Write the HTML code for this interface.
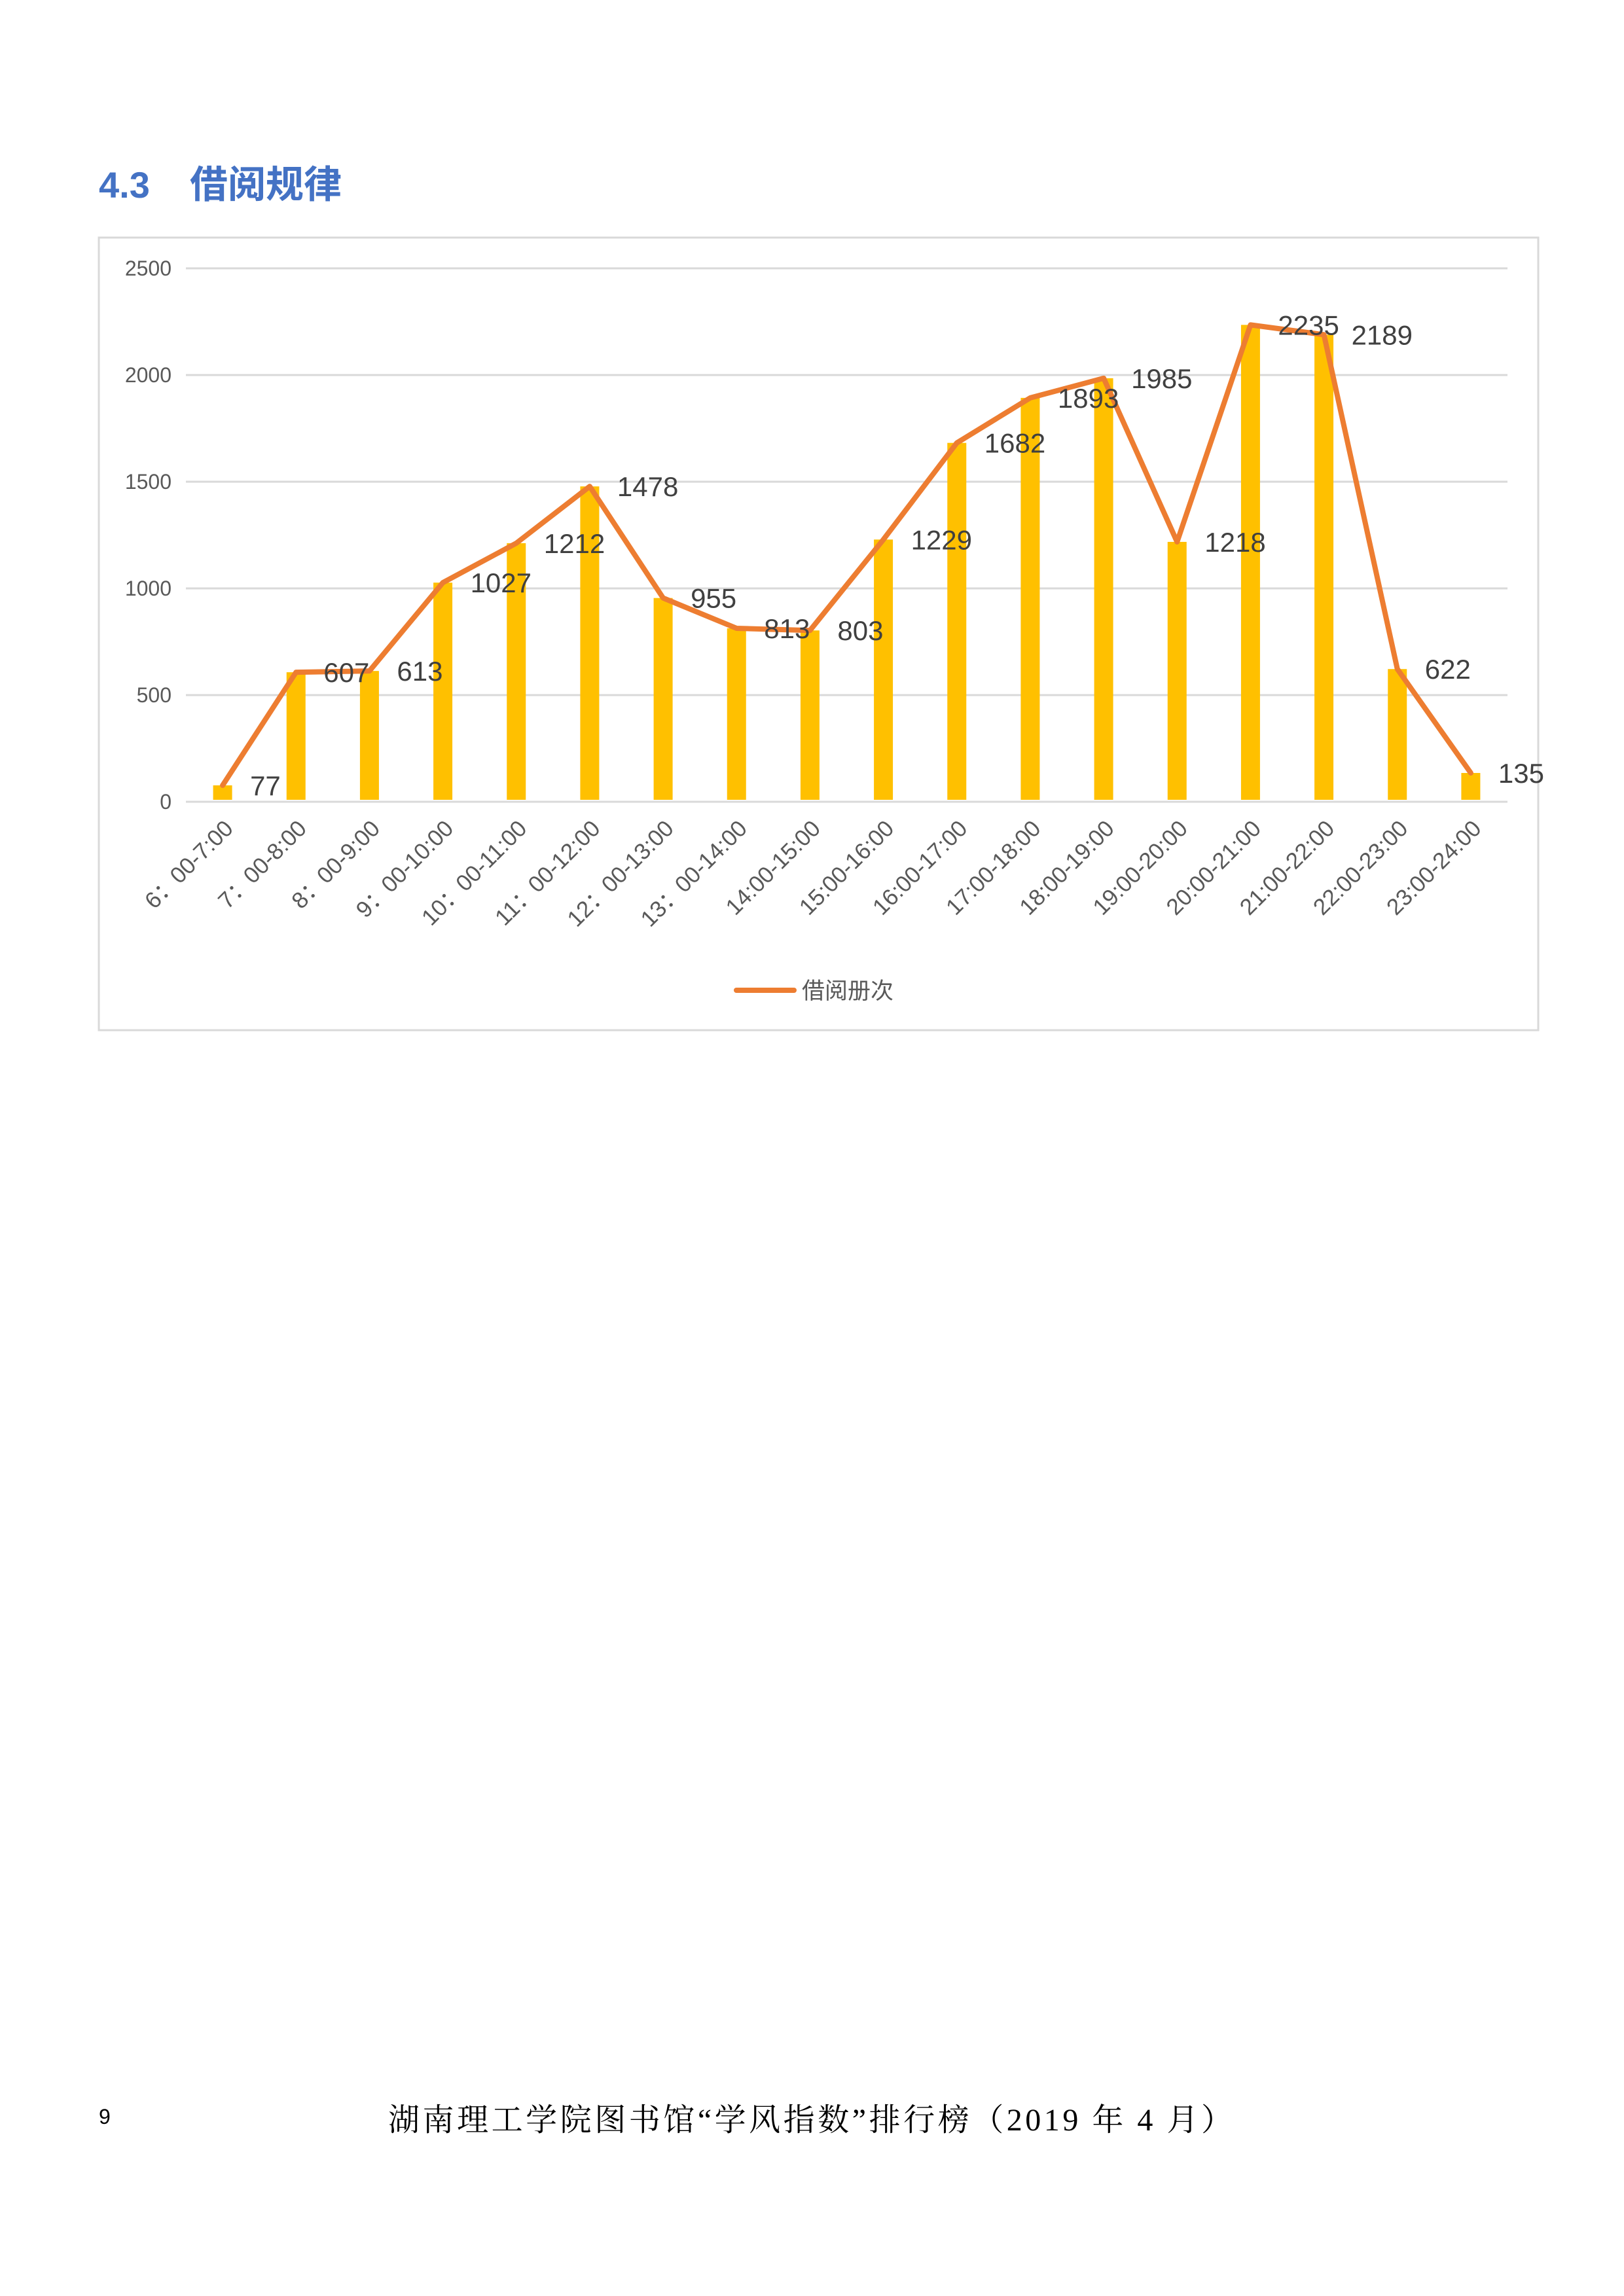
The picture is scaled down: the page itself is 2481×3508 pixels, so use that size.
<!DOCTYPE html>
<html><head><meta charset="utf-8"><style>
html,body{margin:0;padding:0;background:#fff;}
svg{display:block;}
</style></head><body>
<svg id="page" width="2481" height="3508" viewBox="0 0 2481 3508" xmlns="http://www.w3.org/2000/svg">
<text x="151" y="302" font-family="Liberation Sans, 'Noto Sans CJK SC', sans-serif" font-weight="bold" font-size="56" fill="#4472C4">4.3</text>
<text x="290" y="302" font-family="'Noto Sans CJK SC', sans-serif" font-weight="bold" font-size="58" fill="#4472C4">借阅规律</text>
<rect x="151" y="363" width="2199" height="1211" fill="#fff" stroke="#D9D9D9" stroke-width="3"/>
<g id="grid"></g>
<g id="ylabels"></g>
<g id="bars"></g>
<g id="line"></g>
<g id="vlabels"></g>
<g id="xlabels"></g>
<g>
<line x1="1125" y1="1513" x2="1213" y2="1513" stroke="#ED7D31" stroke-width="8" stroke-linecap="round"/>
<text x="1225" y="1526" font-family="'Noto Sans CJK SC', sans-serif" font-size="35" fill="#595959">借阅册次</text>
</g>
<text x="151" y="3245" font-family="Liberation Sans, sans-serif" font-size="32" fill="#000">9</text>
<text x="593" y="3255" font-family="'Liberation Serif', 'Noto Serif CJK SC', serif" font-size="48" fill="#000" textLength="1290">湖南理工学院图书馆“学风指数”排行榜（2019 年 4 月）</text>
</svg>
<script>
const categories = ["6：00-7:00","7：00-8:00","8：00-9:00","9：00-10:00","10：00-11:00","11：00-12:00","12：00-13:00","13：00-14:00","14:00-15:00","15:00-16:00","16:00-17:00","17:00-18:00","18:00-19:00","19:00-20:00","20:00-21:00","21:00-22:00","22:00-23:00","23:00-24:00"];
const values = [77,607,613,1027,1212,1478,955,813,803,1229,1682,1893,1985,1218,2235,2189,622,135];
const yTicks = [0,500,1000,1500,2000,2500];
const NS = "http://www.w3.org/2000/svg";
const X0 = 284, X1 = 2303, Y0 = 1225, Y1 = 410, YMAX = 2500;
const band = (X1 - X0) / categories.length;
function xs(i){ return X0 + (i + 0.5) * band; }
function ys(v){ return Y0 - (v / YMAX) * (Y0 - Y1); }
function mk(tag, attrs, parent){ const e = document.createElementNS(NS, tag); for (const k in attrs) e.setAttribute(k, attrs[k]); parent.appendChild(e); return e; }
const grid = document.getElementById('grid'), yl = document.getElementById('ylabels');
yTicks.forEach(t => {
  const l = mk('line', {x1:X0, x2:X1, y1:ys(t), y2:ys(t), stroke:'#D9D9D9', 'stroke-width':3}, grid);
  
  
  const tx = mk('text', {x:262, y:ys(t)+11, 'text-anchor':'end', 'font-family':'Liberation Sans, sans-serif', 'font-size':32, fill:'#595959'}, yl);
  tx.textContent = t;
  
  
});
const bars = document.getElementById('bars'), vl = document.getElementById('vlabels'), xl = document.getElementById('xlabels');
const bw = 29;
let pts = [];
values.forEach((v, i) => {
  const cx = xs(i);
  const r = mk('rect', {x:cx-bw/2, y:ys(v), width:bw, height:Y0-ys(v)-3, fill:'#FFC000'}, bars);
  
  
  pts.push(cx + ',' + ys(v));
  const t = mk('text', {x:cx+42, y:ys(v)+15, 'font-family':'Liberation Sans, sans-serif', 'font-size':42, fill:'#404040'}, vl);
  t.textContent = v;
  
  
  const c = mk('text', {x:0, y:0, 'text-anchor':'end', 'font-family':"Liberation Sans, 'Noto Sans CJK SC', sans-serif", 'font-size':35, fill:'#595959', transform:'translate(' + (cx+18) + ',1268) rotate(-45)'}, xl);
  c.textContent = categories[i];
  
  
});
const pl = mk('polyline', {points:pts.join(' '), fill:'none', stroke:'#ED7D31', 'stroke-width':8, 'stroke-linejoin':'round', 'stroke-linecap':'round'}, document.getElementById('line'));


</script>
</body></html>
